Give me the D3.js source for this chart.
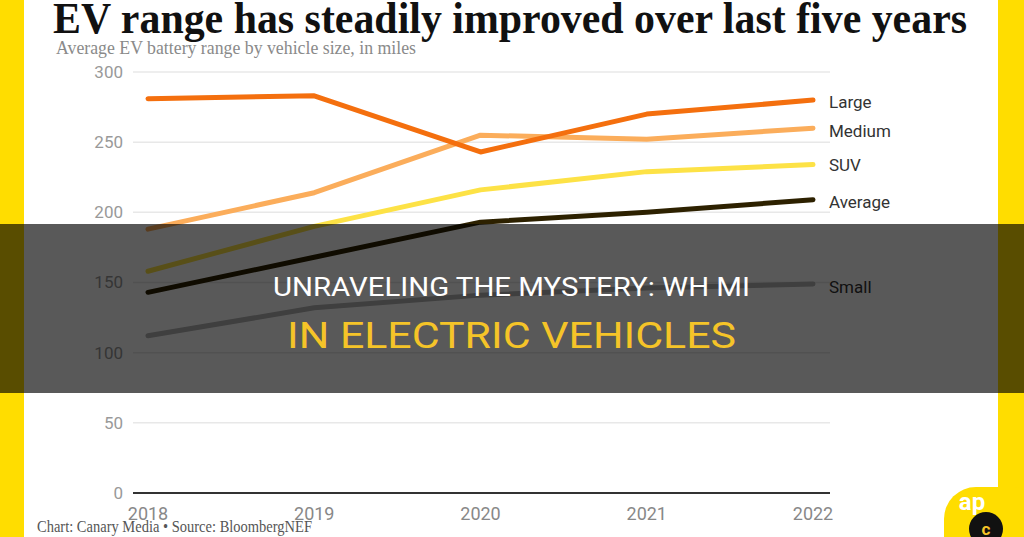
<!DOCTYPE html>
<html>
<head>
<meta charset="utf-8">
<script src="https://cdn.jsdelivr.net/npm/d3@7"></script>
<style>
  html, body { margin: 0; padding: 0; background: #fff; }
  svg { display: block; }
</style>
</head>
<body>
<div id="chart"></div>
<script>
// chart data
const years = [2018, 2019, 2020, 2021, 2022];
const seriesNames = ["Small", "Average", "SUV", "Medium", "Large"];
const large = [281, 283, 243, 270, 280];
const medium = [188, 214, 255, 252, 260];
const suv = [158, 190, 216, 229, 234];
const average = [143, 168, 193, 200, 209];
const small = [112, 132, 141, 146, 149];
const yTicks = [0, 50, 100, 150, 200, 250, 300];

const colors = {
    Large: "#f46f0e",
    Medium: "#fbad5b",
    SUV: "#fde246",
    Average: "#2d2100",
    Small: "#b4b4b4"
};
const values = { Large: large, Medium: medium, SUV: suv, Average: average, Small: small };

const width = 1024, height = 537;
const svg = d3.select("#chart").append("svg")
    .attr("width", width)
    .attr("height", height);

// yellow frame
svg.append("rect").attr("x", 0).attr("y", 0).attr("width", width).attr("height", height).attr("fill", "#ffdd00");
svg.append("rect").attr("x", 24).attr("y", 0).attr("width", 974).attr("height", height).attr("fill", "#fff");

const x = d3.scalePoint().domain(years).range([148, 813]);
const y = d3.scaleLinear().domain([0, 300]).range([493, 72]);

// grid
svg.append("g")
    .selectAll("line")
    .data(yTicks.filter(d => d > 0))
    .join("line")
    .attr("x1", 133).attr("x2", 830)
    .attr("y1", d => y(d)).attr("y2", d => y(d))
    .attr("stroke", "#e8e8e8")
    .attr("stroke-width", 1.5);

svg.append("line")
    .attr("x1", 133).attr("x2", 830)
    .attr("y1", y(0)).attr("y2", y(0))
    .attr("stroke", "#333")
    .attr("stroke-width", 2);

// y labels
svg.append("g")
    .style("font", "17px Roboto")
    .attr("fill", "#999")
    .selectAll("text")
    .data(yTicks)
    .join("text")
    .attr("x", 123)
    .attr("y", d => y(d))
    .attr("dy", "0.35em")
    .attr("text-anchor", "end")
    .text(d => d);

// x labels
svg.append("g")
    .style("font", "18px Roboto")
    .attr("fill", "#888")
    .selectAll("text")
    .data(years)
    .join("text")
    .attr("x", d => x(d))
    .attr("y", 520)
    .attr("text-anchor", "middle")
    .text(d => d);

// lines
const line = d3.line()
    .x((d, i) => x(years[i]))
    .y(d => y(d));

svg.append("g")
    .attr("fill", "none")
    .selectAll("path")
    .data(seriesNames)
    .join("path")
    .attr("d", d => line(values[d]))
    .attr("stroke", d => colors[d])
    .attr("stroke-width", 5)
    .attr("stroke-linecap", "round")
    .attr("stroke-linejoin", "round");

// series labels
const labelY = { Large: 102, Medium: 131, SUV: 165, Average: 202, Small: 287 };
svg.append("g")
    .style("font", "17px Roboto")
    .attr("fill", "#333")
    .selectAll("text")
    .data(seriesNames)
    .join("text")
    .attr("x", 829)
    .attr("y", d => labelY[d])
    .attr("dy", "0.35em")
    .text(d => d);

// titles
svg.append("text")
    .attr("x", 53).attr("y", 33)
    .attr("textLength", 914)
    .attr("lengthAdjust", "spacingAndGlyphs")
    .style("font", "bold 44px 'Liberation Serif'")
    .attr("fill", "#111")
    .text("EV range has steadily improved over last five years");

svg.append("text")
    .attr("x", 56).attr("y", 54)
    .attr("textLength", 360)
    .attr("lengthAdjust", "spacingAndGlyphs")
    .style("font", "19px 'Liberation Serif'")
    .attr("fill", "#8a8a8a")
    .text("Average EV battery range by vehicle size, in miles");

svg.append("text")
    .attr("x", 37).attr("y", 532)
    .attr("textLength", 275)
    .attr("lengthAdjust", "spacingAndGlyphs")
    .style("font", "17px 'Liberation Serif'")
    .attr("fill", "#555")
    .text("Chart: Canary Media \u2022 Source: BloombergNEF");

// logo
svg.append("rect")
    .attr("x", 944).attr("y", 487)
    .attr("width", 100).attr("height", 90)
    .attr("rx", 32)
    .attr("fill", "#ffdd00");
svg.append("text")
    .attr("x", 972).attr("y", 510)
    .attr("text-anchor", "middle")
    .style("font", "bold 24px Roboto")
    .attr("fill", "#fff")
    .text("ap");
svg.append("circle").attr("cx", 986).attr("cy", 529).attr("r", 17).attr("fill", "#111");
svg.append("text")
    .attr("x", 986).attr("y", 535)
    .attr("text-anchor", "middle")
    .style("font", "bold 17px Roboto")
    .attr("fill", "#f5c428")
    .text("c");

// overlay band
svg.append("rect")
    .attr("x", 0).attr("y", 224)
    .attr("width", width).attr("height", 169)
    .attr("fill", "#000")
    .attr("opacity", 0.65);

svg.append("text")
    .attr("x", 273).attr("y", 296)
    .attr("textLength", 477)
    .attr("lengthAdjust", "spacingAndGlyphs")
    .style("font", "25px Roboto")
    .attr("fill", "#fff")
    .text("UNRAVELING THE MYSTERY: WH MI");

svg.append("text")
    .attr("x", 287).attr("y", 348)
    .attr("textLength", 449)
    .attr("lengthAdjust", "spacingAndGlyphs")
    .style("font", "37px Roboto")
    .attr("fill", "#f5c428")
    .text("IN ELECTRIC VEHICLES");
</script>
</body>
</html>
